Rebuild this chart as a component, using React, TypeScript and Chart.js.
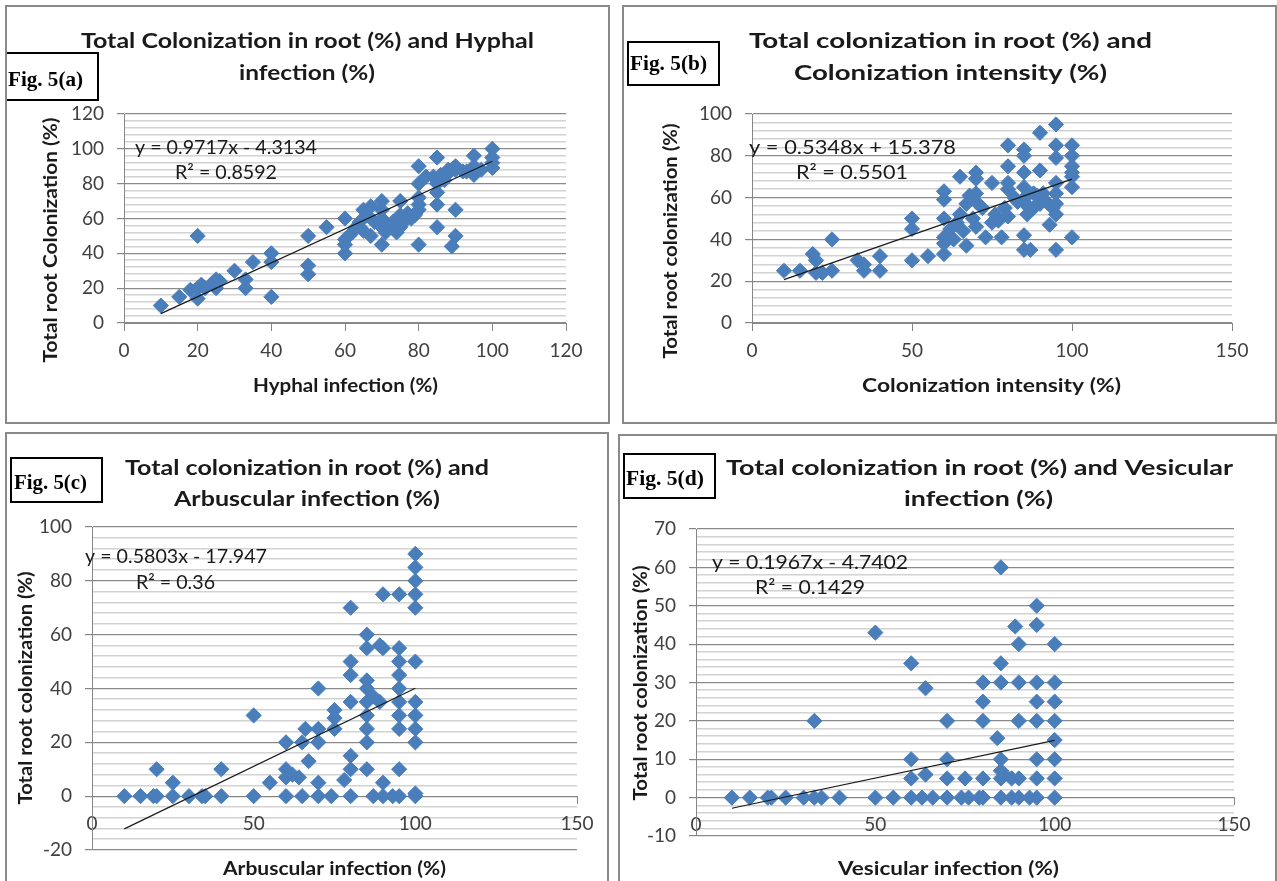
import React, { useEffect, useRef } from 'react';
import { Chart, registerables } from 'chart.js';

Chart.register(...registerables);

// ---------------- DATA ----------------
// Fig. 5(a): Hyphal infection (%) vs Total root colonization (%)
const hyphalInfection = [10, 15, 18, 20, 20, 20, 21, 22, 24, 25, 25, 26, 30, 33, 33, 35, 40, 40, 40, 50, 50, 50, 55, 60, 60, 60, 60, 61, 62, 63, 64, 65, 65, 66, 67, 67, 68, 70, 70, 70, 70, 70, 71, 72, 73, 74, 75, 75, 75, 76, 77, 78, 79, 80, 80, 80, 80, 80, 80, 82, 84, 85, 85, 85, 85, 85, 86, 87, 88, 88, 89, 90, 90, 90, 90, 92, 93, 95, 95, 95, 97, 100, 100, 100, 100];
const hyphalTotal = [10, 15, 19, 20, 14, 50, 22, 20, 23, 25, 20, 24, 30, 25, 20, 35, 40, 35, 15, 50, 33, 28, 55, 60, 48, 45, 40, 50, 52, 55, 58, 65, 53, 62, 67, 50, 58, 70, 65, 60, 55, 45, 52, 55, 58, 52, 70, 62, 55, 58, 63, 60, 62, 90, 80, 72, 68, 65, 45, 84, 84, 95, 80, 75, 68, 55, 85, 82, 86, 88, 44, 90, 88, 65, 50, 87, 87, 96, 85, 90, 88, 100, 95, 89, 92];
const hyphalFit = [0.9717, -4.3134]; // slope, intercept
const hyphalLabels = ['y = 0.9717x - 4.3134', 'R² = 0.8592'];

// Fig. 5(b): Colonization intensity (%) vs Total root colonization (%)
const intensityX = [10, 15, 19, 20, 20, 22, 25, 25, 33, 35, 35, 40, 40, 50, 50, 50, 55, 60, 60, 60, 60, 60, 60, 62, 63, 64, 65, 65, 66, 67, 67, 68, 69, 70, 70, 70, 70, 70, 72, 73, 75, 75, 76, 77, 78, 79, 80, 80, 80, 80, 80, 82, 83, 85, 85, 85, 85, 85, 85, 85, 86, 86, 86, 87, 88, 88, 89, 90, 90, 90, 91, 92, 93, 94, 95, 95, 95, 95, 95, 95, 95, 95, 100, 100, 100, 100, 100, 100, 100];
const intensityTotal = [25, 25, 33, 30, 24, 24, 40, 25, 30, 28, 25, 32, 25, 50, 45, 30, 32, 63, 59, 50, 41, 38, 33, 45, 40, 48, 70, 52, 44, 57, 37, 61, 50, 72, 69, 62, 58, 46, 55, 41, 67, 48, 52, 49, 41, 55, 85, 75, 67, 64, 51, 60, 58, 83, 80, 72, 65, 58, 42, 35, 61, 56, 52, 35, 62, 55, 61, 91, 73, 57, 62, 58, 47, 55, 95, 85, 79, 67, 62, 57, 52, 35, 85, 80, 75, 72, 70, 65, 41];
const intensityFit = [0.5348, 15.378];
const intensityLabels = ['y = 0.5348x + 15.378', 'R² = 0.5501'];

// Fig. 5(c): Arbuscular infection (%) vs Total root colonization (%)
const arbuscularX = [10, 15, 19, 20, 20, 25, 25, 30, 34, 35, 40, 40, 50, 50, 55, 60, 60, 60, 62, 60, 64, 65, 65, 67, 66, 70, 70, 70, 70, 70, 74, 75, 75, 75, 78, 80, 80, 80, 80, 80, 80, 80, 85, 85, 85, 85, 85, 85, 85, 85, 85, 87, 87, 89, 89, 90, 90, 90, 90, 93, 95, 95, 95, 95, 95, 95, 95, 95, 95, 95, 100, 100, 100, 100, 100, 100, 100, 100, 100, 100, 100, 100];
const arbuscularTotal = [0, 0, 0, 0, 10, 5, 0, 0, 0, 0, 10, 0, 30, 0, 5, 20, 10, 7, 8, 0, 7, 0, 20, 13, 25, 40, 25, 20, 5, 0, 0, 32, 29, 25, 6, 70, 50, 45, 35, 15, 10, 0, 60, 55, 43, 40, 35, 30, 25, 20, 10, 37, 0, 56, 35, 75, 55, 5, 0, 0, 75, 55, 50, 45, 40, 35, 30, 25, 10, 0, 90, 85, 80, 75, 70, 50, 35, 30, 25, 20, 1, 0];
const arbuscularFit = [0.5803, -17.947];
const arbuscularLabels = ['y = 0.5803x - 17.947', 'R² = 0.36'];

// Fig. 5(d): Vesicular infection (%) vs Total root colonization (%)
const vesicularX = [10, 15, 20, 21, 25, 30, 33, 35, 33, 40, 50, 50, 55, 60, 60, 60, 60, 63, 64, 64, 66, 70, 70, 70, 70, 74, 75, 76, 79, 80, 80, 80, 80, 80, 85, 85, 85, 84, 85, 85, 86, 88, 85, 85, 88, 89, 90, 90, 90, 90, 90, 93, 95, 95, 95, 95, 95, 95, 95, 95, 100, 100, 100, 100, 100, 100, 100, 100];
const vesicularTotal = [0, 0, 0, 0, 0, 0, 0, 0, 20, 0, 43, 0, 0, 35, 10, 5, 0, 0, 28.5, 6, 0, 20, 10, 5, 0, 0, 5, 0, 0, 30, 25, 20, 5, 0, 60, 35, 30, 15.5, 10, 7, 6, 5, 5, 0, 0, 44.6, 40, 30, 20, 5, 0, 0, 50, 45, 30, 25, 20, 10, 5, 0, 40, 30, 25, 20, 15, 10, 5, 0];
const vesicularFit = [0.1967, -4.7402];
const vesicularLabels = ['y = 0.1967x - 4.7402', 'R² = 0.1429'];

// axis ranges: [min, max, major step, minor step]
const xRangeA = [0, 120, 20];
const yRangeA = [0, 120, 20, 4];
const xRangeB = [0, 150, 50];
const yRangeB = [0, 100, 20, 4];
const xRangeC = [0, 150, 50];
const yRangeC = [-20, 100, 20, 4];
const xRangeD = [0, 150, 50];
const yRangeD = [-10, 70, 10, 2];

// ---------------- LAYOUT / STYLE ----------------
type Box = { l: number; t: number; r: number; b: number };
type TextItem = { text: string; cx: number; cy: number; w: number; size: number; bold?: boolean; rot?: boolean; serif?: boolean };
type PanelSpec = {
  canvas: Box;
  border: { l: number; t: number; w: number; h: number; noBottom?: boolean };
  area: Box;
  xs: number[];
  ys: number[];
  fit: number[];
  xRange: number[];
  yRange: number[];
  texts: TextItem[];
  figBox: Box;
  fig: TextItem;
};

const SANS = 'Lato, "Open Sans", sans-serif';
const SERIF = '"Liberation Serif", "DejaVu Serif", serif';
const BLUE = '#4a7ebb';
const AXIS = '#868686';
const MAJOR = '#8a8a8a';
const MINOR = '#d2d2d2';
const TICK_TEXT = '#404040';

const panels: PanelSpec[] = [
  {
    canvas: { l: 5, t: 5, r: 610, b: 424 },
    border: { l: 5, t: 5, w: 605, h: 419 },
    area: { l: 124, t: 114, r: 566, b: 323 },
    xs: hyphalInfection, ys: hyphalTotal, fit: hyphalFit,
    xRange: xRangeA, yRange: yRangeA,
    texts: [
      { text: 'Total Colonization in root (%) and Hyphal', cx: 307.5, cy: 40, w: 453, size: 21, bold: true },
      { text: 'infection (%)', cx: 307, cy: 72, w: 136, size: 21, bold: true },
      { text: 'Hyphal infection (%)', cx: 345.5, cy: 385, w: 185, size: 19, bold: true },
      { text: 'Total root Colonization (%)', cx: 50, cy: 240, w: 245, size: 19, bold: true, rot: true },
      { text: hyphalLabels[0], cx: 226, cy: 147, w: 182, size: 19 },
      { text: hyphalLabels[1], cx: 226, cy: 172, w: 102, size: 19 },
    ],
    figBox: { l: 6, t: 53, r: 98, b: 100 },
    fig: { text: 'Fig. 5(a)', cx: 45.5, cy: 79, w: 75, size: 20, bold: true, serif: true },
  },
  {
    canvas: { l: 622, t: 5, r: 1277, b: 424 },
    border: { l: 622, t: 5, w: 655, h: 419 },
    area: { l: 752, t: 114, r: 1232, b: 323 },
    xs: intensityX, ys: intensityTotal, fit: intensityFit,
    xRange: xRangeB, yRange: yRangeB,
    texts: [
      { text: 'Total colonization in root (%) and', cx: 950.5, cy: 40, w: 403, size: 21, bold: true },
      { text: 'Colonization intensity (%)', cx: 950.5, cy: 72, w: 313, size: 21, bold: true },
      { text: 'Colonization intensity (%)', cx: 991.5, cy: 385, w: 259, size: 19, bold: true },
      { text: 'Total root colonization (%)', cx: 670, cy: 241, w: 235, size: 19, bold: true, rot: true },
      { text: intensityLabels[0], cx: 852.5, cy: 147, w: 207, size: 19 },
      { text: intensityLabels[1], cx: 852, cy: 172, w: 112, size: 19 },
    ],
    figBox: { l: 628, t: 42, r: 719, b: 85 },
    fig: { text: 'Fig. 5(b)', cx: 668.5, cy: 63, w: 77, size: 20, bold: true, serif: true },
  },
  {
    canvas: { l: 5, t: 432, r: 609, b: 881 },
    border: { l: 5, t: 432, w: 604, h: 460, noBottom: true },
    area: { l: 92, t: 527, r: 577, b: 850 },
    xs: arbuscularX, ys: arbuscularTotal, fit: arbuscularFit,
    xRange: xRangeC, yRange: yRangeC,
    texts: [
      { text: 'Total colonization in root (%) and', cx: 307, cy: 467, w: 364, size: 21, bold: true },
      { text: 'Arbuscular infection (%)', cx: 307, cy: 498, w: 266, size: 21, bold: true },
      { text: 'Arbuscular infection (%)', cx: 334.5, cy: 868, w: 223, size: 19, bold: true },
      { text: 'Total root colonization (%)', cx: 25, cy: 688, w: 233, size: 19, bold: true, rot: true },
      { text: arbuscularLabels[0], cx: 176, cy: 556, w: 182, size: 19 },
      { text: arbuscularLabels[1], cx: 175.5, cy: 582, w: 79, size: 19 },
    ],
    figBox: { l: 11, t: 458, r: 102, b: 502 },
    fig: { text: 'Fig. 5(c)', cx: 50.5, cy: 482, w: 73, size: 20, bold: true, serif: true },
  },
  {
    canvas: { l: 618, t: 434, r: 1277, b: 881 },
    border: { l: 618, t: 434, w: 659, h: 460, noBottom: true },
    area: { l: 696, t: 529, r: 1234, b: 836 },
    xs: vesicularX, ys: vesicularTotal, fit: vesicularFit,
    xRange: xRangeD, yRange: yRangeD,
    texts: [
      { text: 'Total colonization in root (%) and Vesicular', cx: 979.5, cy: 467, w: 507, size: 21, bold: true },
      { text: 'infection (%)', cx: 978.5, cy: 498, w: 149, size: 21, bold: true },
      { text: 'Vesicular infection (%)', cx: 948.5, cy: 868, w: 221, size: 19, bold: true },
      { text: 'Total root colonization (%)', cx: 640, cy: 683, w: 235, size: 19, bold: true, rot: true },
      { text: vesicularLabels[0], cx: 810, cy: 562, w: 196, size: 19 },
      { text: vesicularLabels[1], cx: 810, cy: 587, w: 110, size: 19 },
    ],
    figBox: { l: 624, t: 454, r: 715, b: 498 },
    fig: { text: 'Fig. 5(d)', cx: 665, cy: 478, w: 78, size: 20, bold: true, serif: true },
  },
];

function drawFit(ctx: CanvasRenderingContext2D, it: TextItem, ox: number, oy: number) {
  ctx.save();
  ctx.font = `${it.bold ? 'bold ' : ''}${it.size}px ${it.serif ? SERIF : SANS}`;
  const m = ctx.measureText(it.text).width || 1;
  const sx = it.w ? it.w / m : 1;
  ctx.translate(it.cx - ox, it.cy - oy);
  if (it.rot) ctx.rotate(-Math.PI / 2);
  ctx.scale(sx, 1);
  ctx.textAlign = 'center';
  ctx.textBaseline = 'alphabetic';
  ctx.fillStyle = it.serif ? '#000000' : '#1a1a1a';
  ctx.fillText(it.text, 0, it.size * (it.serif ? 0.33 : 0.36));
  ctx.restore();
}

function isMajor(v: number, major: number) {
  const r = Math.abs(v % major);
  return r < 1e-6 || Math.abs(r - major) < 1e-6;
}

function buildConfig(p: PanelSpec): any {
  const H = p.canvas.b - p.canvas.t;
  const yW = 60;
  const [xMin, xMax, xStep] = p.xRange;
  const [yMin, yMax, yMajor, yMinor] = p.yRange;
  const points = p.xs.map((x, i) => ({ x, y: p.ys[i] }));
  const lo = Math.min(...p.xs);
  const hi = Math.max(...p.xs);
  const [slope, intercept] = p.fit;
  const trend = [
    { x: lo, y: slope * lo + intercept },
    { x: hi, y: slope * hi + intercept },
  ];

  const textPlugin = {
    id: 'panelTexts',
    afterDraw(chart: any) {
      const ctx = chart.ctx as CanvasRenderingContext2D;
      const ox = p.canvas.l;
      const oy = p.canvas.t;
      p.texts.forEach((t) => drawFit(ctx, t, ox, oy));
      ctx.save();
      ctx.strokeStyle = '#000';
      ctx.lineWidth = 2;
      ctx.strokeRect(p.figBox.l - ox, p.figBox.t - oy, p.figBox.r - p.figBox.l, p.figBox.b - p.figBox.t);
      ctx.restore();
      drawFit(ctx, p.fig, ox, oy);
    },
  };

  return {
    type: 'scatter',
    data: {
      datasets: [
        {
          type: 'line',
          data: trend,
          borderColor: '#1a1a1a',
          borderWidth: 1.2,
          pointRadius: 0,
          fill: false,
          tension: 0,
        },
        {
          type: 'scatter',
          data: points,
          pointStyle: 'rectRot',
          pointRadius: 7.6,
          pointHoverRadius: 7.6,
          backgroundColor: BLUE,
          borderColor: BLUE,
          borderWidth: 1,
        },
      ],
    },
    options: {
      responsive: false,
      animation: false,
      events: [],
      layout: {
        padding: {
          left: p.area.l - p.canvas.l - yW,
          top: p.area.t - p.canvas.t,
          right: p.canvas.r - p.area.r,
          bottom: H - (p.area.b - p.canvas.t),
        },
      },
      plugins: {
        legend: { display: false },
        tooltip: { enabled: false },
        title: { display: false },
      },
      scales: {
        x: {
          type: 'linear',
          position: { y: 0 },
          min: xMin,
          max: xMax,
          ticks: {
            stepSize: xStep,
            autoSkip: false,
            maxRotation: 0,
            padding: 9,
            color: TICK_TEXT,
            font: { family: SANS, size: 19 },
          },
          grid: {
            drawOnChartArea: false,
            drawTicks: true,
            tickLength: 7,
            tickColor: AXIS,
            color: AXIS,
          },
          border: { display: true, color: AXIS, width: 1 },
        },
        y: {
          type: 'linear',
          position: 'left',
          min: yMin,
          max: yMax,
          afterFit: (s: any) => {
            s.width = yW;
          },
          ticks: {
            stepSize: yMinor,
            autoSkip: false,
            padding: 13,
            color: TICK_TEXT,
            font: { family: SANS, size: 19 },
            callback: (v: any) => (isMajor(Number(v), yMajor) ? String(v) : ''),
          },
          grid: {
            color: (c: any) => (c.tick && isMajor(c.tick.value, yMajor) ? MAJOR : MINOR),
            lineWidth: (c: any) => (c.tick && isMajor(c.tick.value, yMajor) ? 1.2 : 1.6),
            tickColor: (c: any) => (c.tick && isMajor(c.tick.value, yMajor) ? AXIS : 'rgba(0,0,0,0)'),
            tickLength: 7,
          },
          border: { display: true, color: AXIS, width: 1 },
        },
      },
    },
    plugins: [textPlugin],
  };
}

function Panel({ spec }: { spec: PanelSpec }) {
  const ref = useRef<HTMLCanvasElement>(null);
  useEffect(() => {
    if (!ref.current) return;
    const chart = new Chart(ref.current, buildConfig(spec));
    let alive = true;
    const fonts: any = (document as any).fonts;
    if (fonts && fonts.load) {
      Promise.all([
        fonts.load(`19px Lato`),
        fonts.load(`bold 21px Lato`),
        fonts.load(`bold 20px "Liberation Serif"`),
      ])
        .catch(() => null)
        .then(() => {
          if (alive) chart.update();
        });
    }
    return () => {
      alive = false;
      chart.destroy();
    };
  }, [spec]);
  const w = spec.canvas.r - spec.canvas.l;
  const h = spec.canvas.b - spec.canvas.t;
  const bd = spec.border;
  return (
    <>
      <canvas
        ref={ref}
        width={w}
        height={h}
        style={{ position: 'absolute', left: spec.canvas.l, top: spec.canvas.t, width: w, height: h }}
      />
      <div
        style={{
          position: 'absolute',
          left: bd.l,
          top: bd.t,
          width: bd.w,
          height: bd.h,
          boxSizing: 'border-box',
          border: '2px solid #8a8a8a',
          borderBottom: bd.noBottom ? 'none' : '2px solid #8a8a8a',
          pointerEvents: 'none',
        }}
      />
    </>
  );
}

export default function App() {
  return (
    <div
      style={{
        position: 'absolute',
        left: 0,
        top: 0,
        width: 1277,
        height: 881,
        overflow: 'hidden',
        background: '#ffffff',
      }}
    >
      {panels.map((p, i) => (
        <Panel key={i} spec={p} />
      ))}
    </div>
  );
}
